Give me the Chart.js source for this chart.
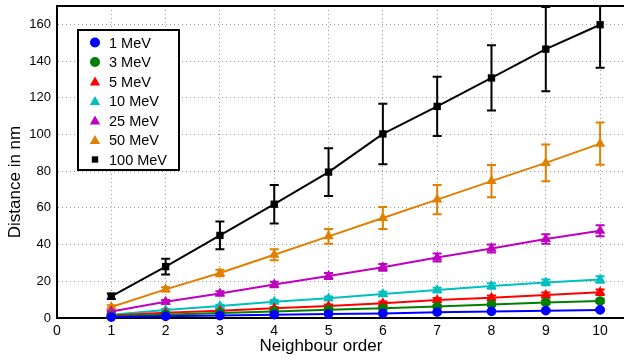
<!DOCTYPE html>
<html>
<head>
<meta charset="utf-8">
<script src="https://cdn.jsdelivr.net/npm/chart.js@4.4.1/dist/chart.umd.min.js"></script>
<style>
  html, body { margin: 0; padding: 0; background: #fff; }
  #c { display: block; }
</style>
</head>
<body>
<canvas id="c" width="624" height="362"></canvas>
<script>
// neighbour order (x values)
const order = [1, 2, 3, 4, 5, 6, 7, 8, 9, 10];

// mean distance in nm for each energy
const mev1   = [0.5, 0.9, 1.3, 1.8, 2.2, 2.5, 3.2, 3.6, 4.0, 4.4];
const mev3   = [0.9, 1.8, 2.7, 3.6, 4.5, 5.3, 6.2, 7.4, 8.5, 9.3];
const mev5   = [1.3, 2.8, 4.0, 5.3, 6.5, 8.0, 9.8, 11.0, 12.5, 14.0];
const mev10  = [1.8, 4.4, 6.5, 8.9, 10.7, 13.1, 15.2, 17.4, 19.4, 21.0];
const mev25  = [3.5, 8.8, 13.4, 18.3, 22.9, 27.6, 33.0, 37.9, 43.0, 47.5];
const mev50  = [6.0, 15.6, 24.5, 34.5, 44.5, 54.5, 64.5, 74.6, 84.5, 95.0];
const mev100 = [11.8, 28.0, 45.0, 62.0, 79.5, 100.3, 115.3, 130.8, 146.5, 159.8];

// error bar half widths
const err1   = [0.1, 0.2, 0.2, 0.3, 0.3, 0.4, 0.4, 0.5, 0.5, 0.6];
const err3   = [0.2, 0.3, 0.4, 0.5, 0.6, 0.7, 0.8, 0.9, 1.0, 1.1];
const err5   = [0.3, 0.4, 0.6, 0.7, 0.8, 1.0, 1.1, 1.3, 1.4, 1.5];
const err10  = [0.3, 0.5, 0.7, 0.9, 1.0, 1.2, 1.3, 1.5, 1.6, 1.8];
const err25  = [0.5, 1.0, 1.2, 1.5, 1.6, 1.8, 2.2, 2.2, 2.6, 3.0];
const err50  = [1.0, 1.2, 1.8, 3.0, 4.0, 6.0, 8.0, 8.8, 10.0, 11.5];
const err100 = [1.5, 4.3, 7.6, 10.5, 13.0, 16.5, 16.2, 17.8, 23.0, 23.5];

const seriesNames = ['1 MeV', '3 MeV', '5 MeV', '10 MeV', '25 MeV', '50 MeV', '100 MeV'];
const xTicks = [0, 1, 2, 3, 4, 5, 6, 7, 8, 9, 10];
const yTicks = [0, 20, 40, 60, 80, 100, 120, 140, 160];

const FONT = '"Liberation Sans", Arial, Helvetica, sans-serif';

const series = [
    { vals: mev1,   errs: err1,   color: '#0000ff', style: 'circle',   r: 4.8 },
    { vals: mev3,   errs: err3,   color: '#008000', style: 'circle',   r: 4.8 },
    { vals: mev5,   errs: err5,   color: '#ff0000', style: 'triangle', r: 6 },
    { vals: mev10,  errs: err10,  color: '#00bfbf', style: 'triangle', r: 6 },
    { vals: mev25,  errs: err25,  color: '#bf00bf', style: 'triangle', r: 6 },
    { vals: mev50,  errs: err50,  color: '#df8000', style: 'triangle', r: 6 },
    { vals: mev100, errs: err100, color: '#000000', style: 'rect',     r: 5.2 }
];

function drawMarker(ctx, style, x, y, r, color) {
    ctx.save();
    ctx.fillStyle = color;
    ctx.beginPath();
    if (style === 'circle') {
        ctx.arc(x, y, r, 0, Math.PI * 2);
    } else if (style === 'triangle') {
        ctx.moveTo(x, y - r);
        ctx.lineTo(x + r * 0.866, y + r * 0.5);
        ctx.lineTo(x - r * 0.866, y + r * 0.5);
        ctx.closePath();
    } else {
        const s = r * Math.SQRT1_2;
        ctx.rect(x - s, y - s, 2 * s, 2 * s);
    }
    ctx.fill();
    ctx.restore();
}

// error bars, drawn before the markers
const errorBars = {
    id: 'errorBars',
    beforeDatasetsDraw(chart) {
        const ctx = chart.ctx;
        const xs = chart.scales.x, ys = chart.scales.y;
        const a = chart.chartArea;
        ctx.save();
        ctx.beginPath();
        ctx.rect(a.left, a.top, a.right - a.left, a.bottom - a.top);
        ctx.clip();
        ctx.lineWidth = 2;
        series.forEach(s => {
            ctx.strokeStyle = s.color;
            order.forEach((o, i) => {
                const px = xs.getPixelForValue(o);
                const top = ys.getPixelForValue(s.vals[i] + s.errs[i]);
                const bot = ys.getPixelForValue(s.vals[i] - s.errs[i]);
                ctx.beginPath();
                ctx.moveTo(px, top); ctx.lineTo(px, bot);
                ctx.moveTo(px - 4.5, top); ctx.lineTo(px + 4.5, top);
                ctx.moveTo(px - 4.5, bot); ctx.lineTo(px + 4.5, bot);
                ctx.stroke();
            });
        });
        ctx.restore();
    }
};

// frame top line, axis titles and the boxed legend
const decorations = {
    id: 'decorations',
    afterDraw(chart) {
        const ctx = chart.ctx;
        const a = chart.chartArea;
        ctx.save();
        ctx.strokeStyle = '#000';
        ctx.lineWidth = 2;
        ctx.beginPath();
        ctx.moveTo(a.left - 1, a.top);
        ctx.lineTo(a.right, a.top);
        ctx.stroke();

        ctx.fillStyle = '#000';
        ctx.font = '17px ' + FONT;
        ctx.textAlign = 'center';
        ctx.textBaseline = 'middle';
        ctx.fillText('Neighbour order', 321, 346);
        ctx.save();
        ctx.translate(15, 182);
        ctx.rotate(-Math.PI / 2);
        ctx.fillText('Distance in nm', 0, 0);
        ctx.restore();

        // legend box
        ctx.fillStyle = '#fff';
        ctx.fillRect(78, 30, 101, 140);
        ctx.lineWidth = 2;
        ctx.strokeRect(78, 30, 101, 140);
        ctx.font = '14.5px ' + FONT;
        ctx.textAlign = 'left';
        seriesNames.forEach((name, i) => {
            const y = 42.5 + i * 19.5;
            const s = series[i];
            const rr = s.style === 'rect' ? 4.5 : (s.style === 'triangle' ? 6 : 5);
            drawMarker(ctx, s.style, 95, s.style === 'triangle' ? y + 1 : y, rr, s.color);
            ctx.fillStyle = '#000';
            ctx.fillText(name, 109, y + 1);
        });
        ctx.restore();
    }
};

const datasets = series.map((s, k) => ({
    label: seriesNames[k],
    data: order.map((o, i) => ({ x: o, y: s.vals[i] })),
    borderColor: s.color,
    backgroundColor: s.color,
    borderWidth: 2,
    pointStyle: s.style,
    pointRadius: s.r,
    pointHoverRadius: s.r,
    pointBorderWidth: 0,
    tension: 0,
    clip: false
}));

new Chart(document.getElementById('c'), {
    type: 'line',
    data: { datasets: datasets },
    plugins: [errorBars, decorations],
    options: {
        responsive: false,
        animation: false,
        events: [],
        layout: { autoPadding: false, padding: { top: 6, right: 0, left: 0, bottom: 0 } },
        plugins: {
            legend: { display: false },
            tooltip: { enabled: false }
        },
        scales: {
            x: {
                type: 'linear',
                min: 0,
                max: 10.44,
                afterBuildTicks: scale => { scale.ticks = xTicks.map(v => ({ value: v })); },
                afterFit: scale => {
                    scale.height = 44;
                    scale.paddingLeft = 0;
                    scale.paddingRight = 0;
                },
                ticks: {
                    font: { family: FONT, size: 14 },
                    color: '#000',
                    padding: 5,
                    maxRotation: 0,
                    autoSkip: false
                },
                grid: { color: '#9a9a9a', lineWidth: 1, drawTicks: false },
                border: { display: true, color: '#000', width: 2, dash: [1, 3] }
            },
            y: {
                type: 'linear',
                min: 0,
                max: 170,
                afterBuildTicks: scale => { scale.ticks = yTicks.map(v => ({ value: v })); },
                afterFit: scale => {
                    scale.width = 57;
                    scale.paddingTop = 0;
                    scale.paddingBottom = 0;
                },
                ticks: {
                    font: { family: FONT, size: 13 },
                    color: '#000',
                    padding: 6
                },
                grid: { color: '#9a9a9a', lineWidth: 1, drawTicks: false },
                border: { display: true, color: '#000', width: 2, dash: [1, 3] }
            }
        }
    }
});
</script>
</body>
</html>
